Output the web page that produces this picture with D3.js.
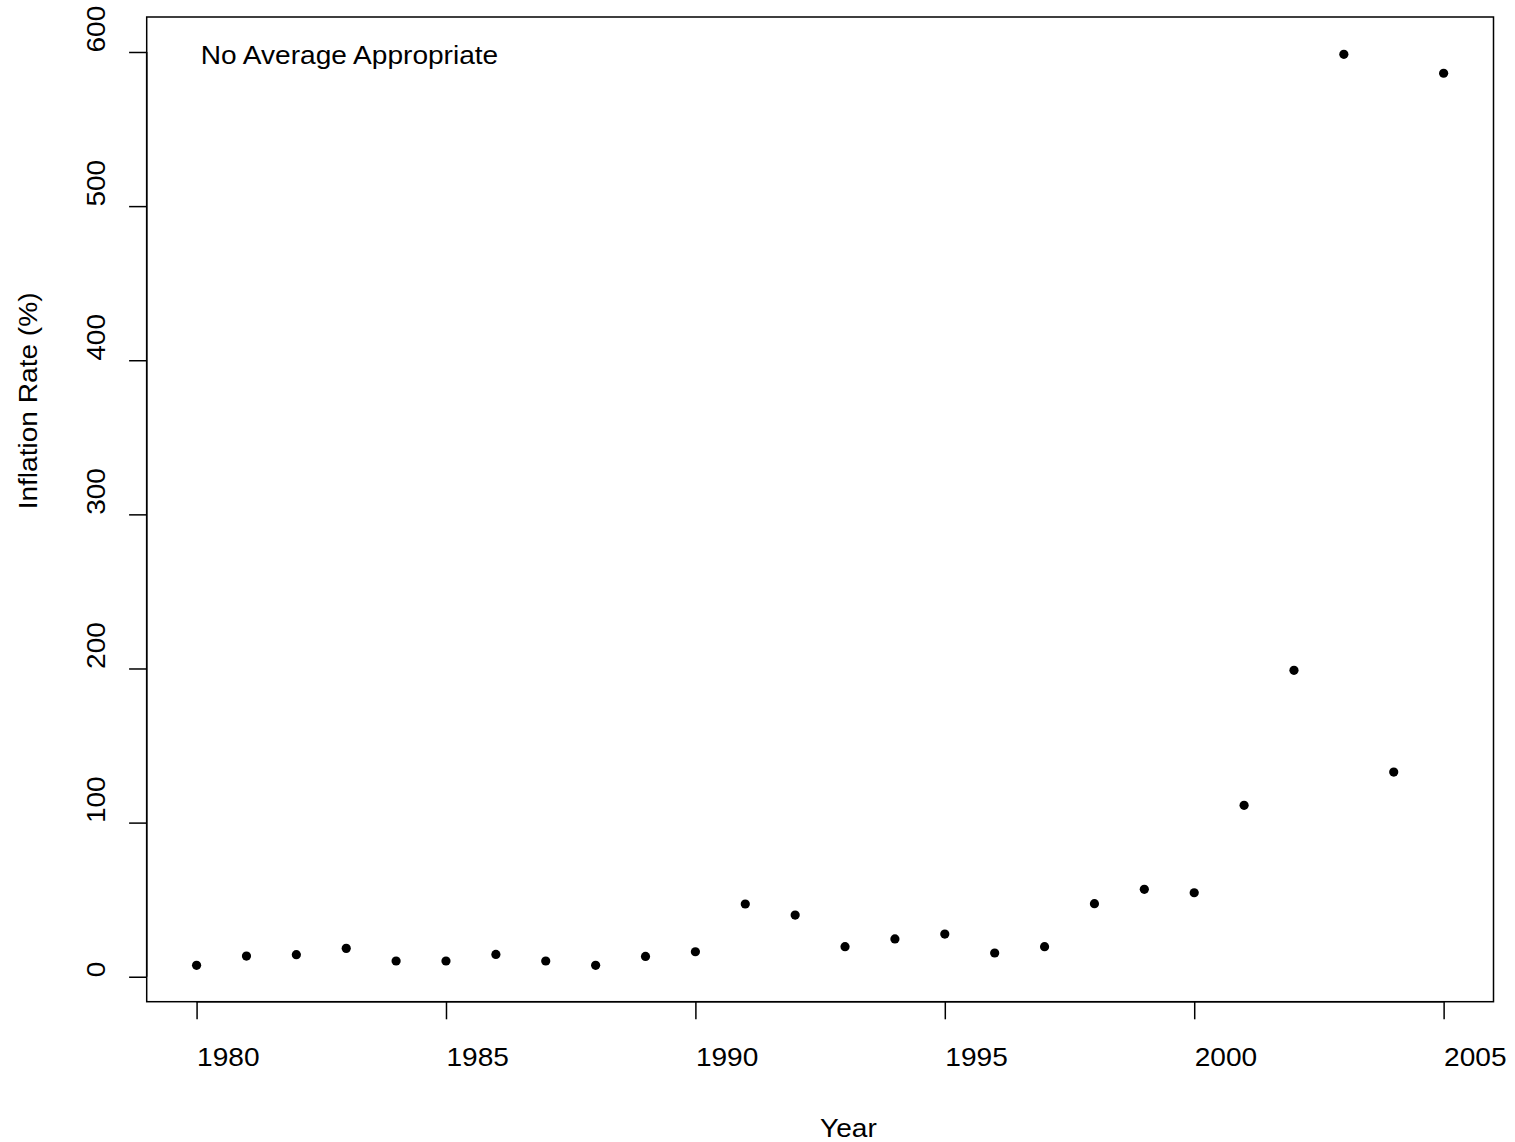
<!DOCTYPE html>
<html>
<head>
<meta charset="utf-8">
<script src="https://cdn.jsdelivr.net/npm/d3@7"></script>
<style>
  html, body { margin: 0; padding: 0; background: #fff; }
  svg text { font-family: "Liberation Sans", Arial, Helvetica, sans-serif; fill: #000; }
</style>
</head>
<body>
<svg id="chart" width="1515" height="1142"></svg>
<script>
// Annual inflation rate (%) by year
const years = [1980, 1981, 1982, 1983, 1984, 1985, 1986, 1987, 1988, 1989,
               1990, 1991, 1992, 1993, 1994, 1995, 1996, 1997, 1998, 1999,
               2000, 2001, 2002, 2003, 2004, 2005];
const inflation = [7.4, 13.4, 14.3, 18.4, 10.2, 10.2, 14.5, 10.2, 7.4, 13.2,
                   16.2, 47.2, 40.0, 19.5, 24.5, 27.7, 15.4, 19.5, 47.4, 56.7,
                   54.5, 111.2, 198.8, 598.5, 132.8, 586.2];
const xTicks = [1980, 1985, 1990, 1995, 2000, 2005];
const yTicks = [0, 100, 200, 300, 400, 500, 600];
const xTitle = "Year";
const yTitle = "Inflation Rate (%)";
const note = "No Average Appropriate";

const svg = d3.select("#chart");
const plot = { left: 146.7, right: 1493.5, top: 17, bottom: 1001.7 };
const fontSize = 26;
const stretch = 1.08;   // glyphs are drawn slightly wide

const x = d3.scaleLinear().domain([1979, 2006]).range([plot.left, plot.right]);
const y = d3.scaleLinear().domain([-16.2, 622.7]).range([plot.bottom, plot.top]);

const tickLen = 17.6;
const lw = 1.5;

// plot frame
svg.append("rect")
  .attr("x", plot.left).attr("y", plot.top)
  .attr("width", plot.right - plot.left).attr("height", plot.bottom - plot.top)
  .attr("fill", "none").attr("stroke", "#000").attr("stroke-width", lw);

// x axis
const xAxis = svg.append("g")
  .attr("transform", `translate(0,${plot.bottom})`)
  .call(d3.axisBottom(x).tickValues(xTicks).tickSize(tickLen).tickFormat(d3.format("d")));
xAxis.select(".domain").remove();
xAxis.selectAll(".tick line").attr("stroke", "#000").attr("stroke-width", lw);
xAxis.selectAll(".tick text")
  .attr("text-anchor", "start")
  .attr("y", null).attr("dy", null)
  .attr("font-size", fontSize)
  .attr("transform", `translate(0,${1066 - plot.bottom}) scale(${stretch},1)`);
xAxis.append("line")
  .attr("x1", x(xTicks[0])).attr("x2", x(xTicks[xTicks.length - 1]))
  .attr("stroke", "#000").attr("stroke-width", lw);

// y axis
const yAxis = svg.append("g")
  .attr("transform", `translate(${plot.left},0)`)
  .call(d3.axisLeft(y).tickValues(yTicks).tickSize(tickLen).tickFormat(d3.format("d")));
yAxis.select(".domain").remove();
yAxis.selectAll(".tick line").attr("stroke", "#000").attr("stroke-width", lw);
yAxis.selectAll(".tick text")
  .attr("text-anchor", "start")
  .attr("x", null).attr("dy", null)
  .attr("font-size", fontSize)
  .attr("transform", `translate(${105 - plot.left},0) rotate(-90) scale(${stretch},1)`);
yAxis.append("line")
  .attr("y1", y(yTicks[0])).attr("y2", y(yTicks[yTicks.length - 1]))
  .attr("stroke", "#000").attr("stroke-width", lw);

// axis titles
svg.append("text")
  .attr("text-anchor", "start").attr("font-size", fontSize)
  .attr("transform", `translate(${(plot.left + plot.right) / 2},1137) scale(${stretch},1)`)
  .text(xTitle);
svg.append("text")
  .attr("text-anchor", "start").attr("font-size", fontSize)
  .attr("transform", `translate(36.5,${(plot.top + plot.bottom) / 2}) rotate(-90) scale(${stretch},1)`)
  .text(yTitle);

// annotation
svg.append("text")
  .attr("text-anchor", "start").attr("font-size", fontSize)
  .attr("transform", `translate(200.7,64) scale(${stretch},1)`)
  .text(note);

// points
svg.append("g")
  .selectAll("circle")
  .data(years.map((yr, i) => ({ yr, v: inflation[i] })))
  .join("circle")
  .attr("cx", d => x(d.yr))
  .attr("cy", d => y(d.v))
  .attr("r", 4.6)
  .attr("fill", "#000");
</script>
</body>
</html>
